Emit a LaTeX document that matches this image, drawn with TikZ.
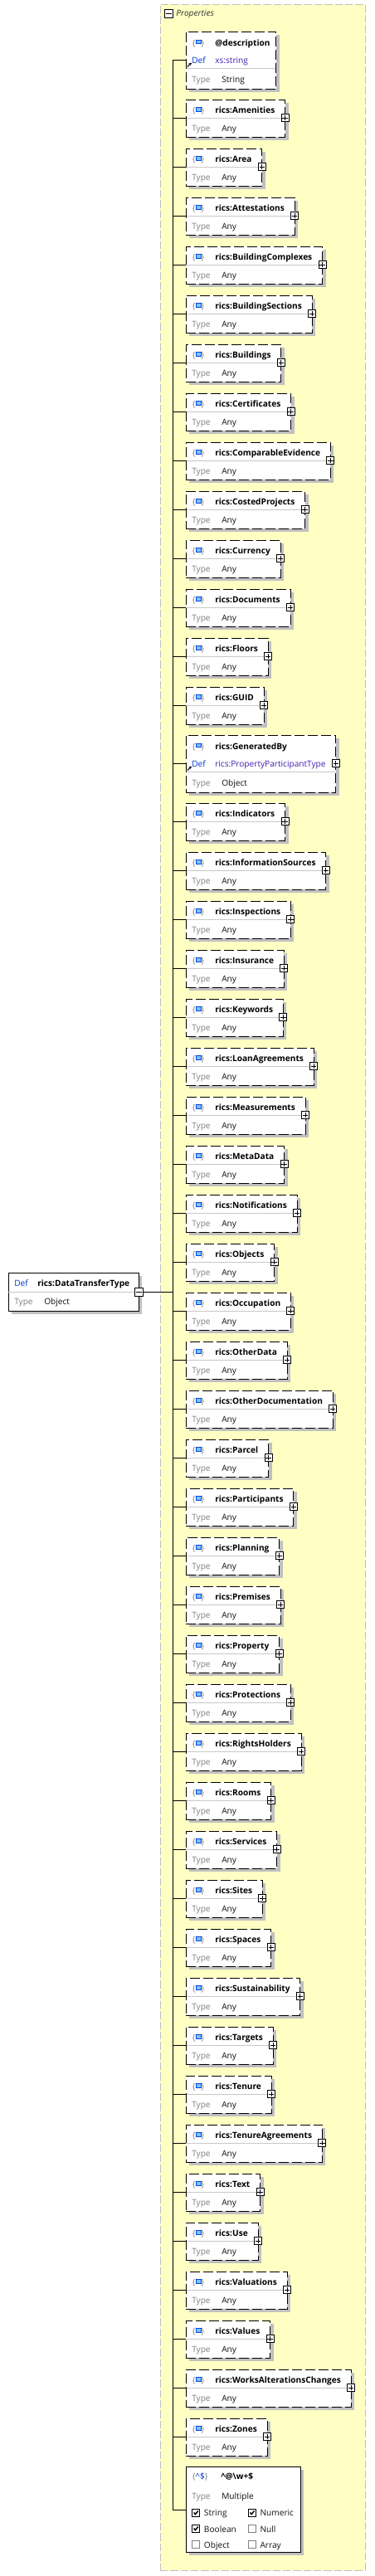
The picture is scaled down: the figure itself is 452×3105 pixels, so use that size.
\documentclass[tikz,border=0pt]{standalone}
\usepackage{fontspec}
\setmainfont{Open Sans}
\usetikzlibrary{calc,fit,arrows.meta}
\pgfdeclarelayer{bg}
\pgfsetlayers{bg,main}
\definecolor{panelc}{RGB}{255,255,196}
\definecolor{panelborder}{RGB}{192,192,192}
\definecolor{shadowc}{RGB}{192,192,192}
\definecolor{sepc}{RGB}{200,200,200}
\definecolor{typegray}{RGB}{128,128,128}
\definecolor{defblue}{RGB}{0,51,204}
\definecolor{linkc}{RGB}{64,32,176}
\definecolor{sqborder}{RGB}{0,72,224}
\definecolor{sqfill}{RGB}{128,192,255}
\definecolor{valc}{RGB}{16,16,16}
\newcommand\fs{\fontsize{7.6}{9}\selectfont}
\tikzset{
  txt/.style={anchor=base west, inner sep=0pt, font=\fs, text=valc},
  nm/.style={txt, font=\fs\bfseries, text=black},
  typ/.style={txt, text=typegray},
  defl/.style={txt, text=defblue},
  linkl/.style={txt, text=linkc},
  brace/.style={inner sep=0pt, font=\fs, text=typegray},
  sq/.style={draw=sqborder, fill=sqfill, line width=0.75pt, minimum width=4.4pt, minimum height=3.6pt, inner sep=0pt},
  shadowfill/.style={fill=shadowc},
  sepline/.style={draw=sepc, line width=0.75pt},
  optbox/.style={draw=black, line width=0.75pt, dash pattern=on 9pt off 3pt, inner sep=0pt},
  solidbox/.style={draw=black, line width=0.75pt, inner sep=0pt},
  conn/.style={draw=black, line width=0.75pt},
  plusbox/.style={draw=black, fill=white, line width=0.75pt, minimum size=6.75pt, inner sep=0pt},
  chk/.style={draw=black, fill=white, line width=0.75pt, minimum size=6.5pt, inner sep=0pt},
  unchk/.style={chk, draw=typegray},
  panel/.style={fill=panelc, draw=panelborder, line width=0.75pt, dash pattern=on 7pt off 2.25pt, inner sep=0pt},
  refarrow/.style={line width=0.75pt, -{Stealth[length=2.6pt,width=2.6pt]}},
}
\newcommand\plusmark[1]{\draw[line width=0.75pt] ([xshift=-2.4pt]#1.center) -- ([xshift=2.4pt]#1.center) ([yshift=-2.4pt]#1.center) -- ([yshift=2.4pt]#1.center);}
\newcommand\minusmark[1]{\draw[line width=0.75pt] ([xshift=-2.6pt]#1.center) -- ([xshift=2.6pt]#1.center);}
\newcommand\elicon[2]{%
  \node[brace, anchor=base west] (#1l) at (231.5,#2) {\{};
  \node[brace, anchor=base east] (#1r) at (246.5,#2) {\}};
  \node[sq] (#1s) at (239.3,#2-4.6) {};
}
% two-row element: id, top, name
\newcommand\anyel[3]{%
  \node[nm] (n#1) at (259,#2+16.7) {#3};
  \elicon{i#1}{#2+16.7}
  \node[typ] (t#1) at (231,#2+38.3) {Type};
  \node[txt] (v#1) at (267,#2+38.3) {Any};
  \coordinate (tl#1) at (224,#2);
  \coordinate (bt#1) at (224,#2+45);
  \coordinate (sl#1) at (224,#2+22);
  \coordinate (e#1) at ([xshift=12*0.75pt]n#1.base east);
  \coordinate (br#1) at (e#1 |- bt#1);
  \coordinate (sr#1) at (e#1 |- sl#1);
  \begin{pgfonlayer}{bg}
    \fill[shadowfill] ([shift={(4,4)}]tl#1) rectangle ([shift={(4,4)}]br#1);
    \fill[white] (tl#1) rectangle (br#1);
  \end{pgfonlayer}
  \draw[sepline] (sl#1) -- (sr#1);
  \node[optbox, fit=(tl#1)(br#1)] (b#1) {};
  \node[plusbox] (p#1) at (sr#1) {};
  \plusmark{p#1}
  \coordinate (j#1) at (208,#2+22);
  \draw[conn] (j#1) -- (b#1.west |- j#1);
}
% three-row element with Def: id, top, name, deftype, typeval, padding, plus flag
\newcommand\defel[7]{%
  \node[nm] (n#1) at (259,#2+17) {#3};
  \elicon{i#1}{#2+17}
  \node[defl] (df#1) at (231,#2+38) {Def};
  \node[linkl] (d#1) at (259,#2+38) {#4};
  \node[typ] (t#1) at (231,#2+61.5) {Type};
  \node[txt] (v#1) at (267,#2+61.5) {#5};
  \coordinate (tl#1) at (224,#2);
  \coordinate (bt#1) at (224,#2+69);
  \coordinate (sl#1) at (224,#2+44.5);
  \coordinate (jl#1) at (224,#2+34);
  \path let \p1=(n#1.base east), \p2=(d#1.base east) in ({max(\x1,\x2)+#6*0.75pt},{\y1}) coordinate (e#1);
  \coordinate (br#1) at (e#1 |- bt#1);
  \coordinate (sr#1) at (e#1 |- sl#1);
  \begin{pgfonlayer}{bg}
    \fill[shadowfill] ([shift={(4,4)}]tl#1) rectangle ([shift={(4,4)}]br#1);
    \fill[white] (tl#1) rectangle (br#1);
  \end{pgfonlayer}
  \draw[sepline] (sl#1) -- (sr#1);
  \node[optbox, fit=(tl#1)(br#1)] (b#1) {};
  \coordinate (as#1) at (225.8,#2+42.5);
  \coordinate (ae#1) at (231,#2+37.6);
  \draw[refarrow] (as#1) -- (ae#1);
  \ifnum#7=1
    \node[plusbox] (p#1) at (e#1 |- jl#1) {};
    \plusmark{p#1}
  \fi
  \coordinate (j#1) at (208,#2+34);
  \draw[conn] (j#1) -- (b#1.west |- j#1);
}
\begin{document}
\begin{tikzpicture}[x=0.75pt,y=-0.75pt]
\useasboundingbox (0,0) rectangle (452,3105);
\begin{pgfonlayer}{bg}
  \fill[white] (0,0) rectangle (452,3105);
  \coordinate (ptl) at (193,5);
  \coordinate (pbr) at (440,3098);
  \node[panel, fit=(ptl)(pbr)] (panel) {};
\end{pgfonlayer}
% header
\node[plusbox, minimum size=7.5pt] (pminus) at (203.5,16) {};
\minusmark{pminus}
\node[txt, font=\fs\itshape, text=black!80] (ptitle) at (212,19.5) {Properties};
% elements
\defel{1}{38}{@description}{xs:string}{String}{7}{0}
\foreach \elname [count=\i from 2] in {Amenities,Area,Attestations,BuildingComplexes,BuildingSections,Buildings,Certificates,ComparableEvidence,CostedProjects,Currency,Documents,Floors,GUID}{
  \pgfmathtruncatemacro\eltop{120+(\i-2)*59}
  \anyel{\i}{\eltop}{rics:\elname}
}
\defel{15}{886}{rics:GeneratedBy}{rics:PropertyParticipantType}{Object}{12}{1}
\foreach \elname [count=\i from 16] in {Indicators,InformationSources,Inspections,Insurance,Keywords,LoanAgreements,Measurements,MetaData,Notifications,Objects,Occupation,OtherData,OtherDocumentation,Parcel,Participants,Planning,Premises,Property,Protections,RightsHolders,Rooms,Services,Sites,Spaces,Sustainability,Targets,Tenure,TenureAgreements,Text,Use,Valuations,Values,WorksAlterationsChanges,Zones}{
  \pgfmathtruncatemacro\eltop{968+(\i-16)*59}
  \anyel{\i}{\eltop}{rics:\elname}
}
% pattern properties box
\coordinate (tl50) at (224,2973);
\coordinate (br50) at (362,3076);
\begin{pgfonlayer}{bg}
  \fill[shadowfill] ([shift={(4,4)}]tl50) rectangle ([shift={(4,4)}]br50);
  \fill[white] (tl50) rectangle (br50);
\end{pgfonlayer}
\node[solidbox, fit=(tl50)(br50)] (b50) {};
\node[brace, anchor=base west] (i50) at (231.5,2988.7) {\{\textcolor{defblue}{\textasciicircum\$}\}};
\node[nm] (n50) at (266,2988.7) {\textasciicircum @\textbackslash w+\$};
\node[typ] (t50) at (231,3012) {Type};
\node[txt] (v50) at (267,3012) {Multiple};
\node[chk] (c1) at (236.3,3028.7) {};
\node[txt] (l1) at (245.7,3032.5) {String};
\node[chk] (c2) at (304,3028.7) {};
\node[txt] (l2) at (313.3,3032.5) {Numeric};
\node[chk] (c3) at (236.3,3047.8) {};
\node[txt] (l3) at (245.7,3052) {Boolean};
\node[unchk] (c4) at (304,3047.8) {};
\node[txt] (l4) at (313.3,3052) {Null};
\node[unchk] (c5) at (236.3,3066.8) {};
\node[txt] (l5) at (245.7,3071.2) {Object};
\node[unchk] (c6) at (304,3066.8) {};
\node[txt] (l6) at (313.3,3071.2) {Array};
\foreach \c in {c1,c2,c3}{
  \draw[line width=1.1pt] ([shift={(-2.6,-0.3)}]\c.center) -- ([shift={(-0.9,1.8)}]\c.center) -- ([shift={(2.6,-2.3)}]\c.center);
}
\coordinate (j50) at (208,3025);
\draw[conn] (j50) -- (b50.west |- j50);
% tree line
\draw[conn] (j1) -- (j50);
% root
\node[defl] (rdef) at (17,1550) {Def};
\node[nm] (rname) at (45,1550) {rics:DataTransferType};
\node[typ] (rtype) at (17,1572.7) {Type};
\node[txt] (rval) at (53,1572.7) {Object};
\coordinate (rtl) at (10,1534);
\coordinate (rb) at (10,1580);
\coordinate (re) at ([xshift=11*0.75pt]rname.base east);
\coordinate (rbr) at (re |- rb);
\begin{pgfonlayer}{bg}
  \fill[shadowfill] ([shift={(4,4)}]rtl) rectangle ([shift={(4,4)}]rbr);
  \fill[white] (rtl) rectangle (rbr);
\end{pgfonlayer}
\node[solidbox, fit=(rtl)(rbr)] (root) {};
\coordinate (rsl) at (10,1557.5);
\draw[sepline] (rsl) -- (rsl -| re);
\node[plusbox, minimum size=7.5pt] (rminus) at (re |- rsl) {};
\minusmark{rminus}
\coordinate (rj) at (208,1557.5);
\draw[conn] (rminus.east) -- (rj);
\end{tikzpicture}
\end{document}
